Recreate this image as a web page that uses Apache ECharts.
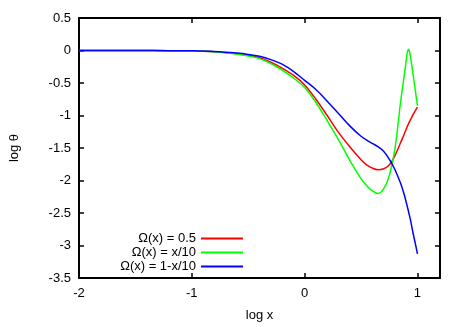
<!DOCTYPE html>
<html><head><meta charset="utf-8">
<script src="https://cdn.jsdelivr.net/npm/echarts@6/dist/echarts.min.js"></script>
<style>html,body{margin:0;padding:0;background:#fff}#c{width:467px;height:327px}</style>
</head><body><div id="c"></div>
<script>
var logX = [-2, -1.5, -1.2, -1, -0.8, -0.6, -0.5, -0.4, -0.3, -0.2, -0.1, 0, 0.1, 0.2, 0.3, 0.4, 0.5, 0.55, 0.6, 0.65, 0.7, 0.75, 0.8, 0.85, 0.88, 0.9, 0.91, 0.92, 0.93, 0.94, 0.96, 0.98, 1.0];
var omegaConst = [0, 0, -0.002, -0.005, -0.02, -0.05, -0.075, -0.11, -0.18, -0.27, -0.38, -0.53, -0.75, -1.0, -1.26, -1.48, -1.68, -1.76, -1.81, -1.835, -1.82, -1.76, -1.62, -1.42, -1.3, -1.21, -1.17, -1.13, -1.095, -1.06, -0.99, -0.93, -0.87];
var omegaLin = [0, 0, -0.002, -0.005, -0.02, -0.055, -0.085, -0.125, -0.2, -0.3, -0.42, -0.57, -0.8, -1.08, -1.37, -1.69, -1.97, -2.08, -2.16, -2.2, -2.13, -1.93, -1.52, -0.8, -0.42, -0.16, -0.03, 0.02, -0.02, -0.11, -0.35, -0.6, -0.85];
var omegaDec = [0, 0, -0.002, -0.005, -0.015, -0.04, -0.06, -0.09, -0.14, -0.21, -0.32, -0.46, -0.6, -0.78, -0.97, -1.16, -1.32, -1.38, -1.43, -1.48, -1.55, -1.67, -1.83, -2.04, -2.2, -2.33, -2.4, -2.47, -2.545, -2.62, -2.8, -2.96, -3.13];
var seriesNames = ['\u03A9(x) = 0.5', '\u03A9(x) = x/10', '\u03A9(x) = 1-x/10'];
var seriesColors = ['#ff0000', '#00ff00', '#0000ff'];
var xTicks = [-2, -1, 0, 1];
var yTicks = [0.5, 0, -0.5, -1, -1.5, -2, -2.5, -3, -3.5];

function pairs(ys){ return logX.map(function(x,i){ return [x, ys[i]]; }); }
var allY = [omegaConst, omegaLin, omegaDec];
var font = 'Liberation Sans, Arial, sans-serif';
var axisLineStyle = {show:true, onZero:false, lineStyle:{color:'#000', width:2}};
var tick = {show:true, inside:true, length:5, lineStyle:{color:'#000', width:1.5}};
var chart = echarts.init(document.getElementById('c'), null, {renderer:'canvas'});
chart.setOption({
  animation:false,
  backgroundColor:'#fff',
  grid:{left:73, right:27, top:18, bottom:48, containLabel:false},
  legend:{
    orient:'vertical', align:'right', right:219, top:227,
    itemWidth:42, itemHeight:2, itemGap:1, icon:'rect',
    data:seriesNames,
    textStyle:{fontFamily:font, fontSize:13, color:'#000', padding:[1,0,1,0]}
  },
  xAxis:[{
    type:'value', min:-2, max:1.2, interval:1,
    name:'log x', nameLocation:'middle', nameGap:31,
    nameTextStyle:{fontFamily:font, fontSize:13, color:'#000'},
    axisLine:axisLineStyle, axisTick:tick, splitLine:{show:false},
    axisLabel:{fontFamily:font, fontSize:13, color:'#000', margin:9, showMaxLabel:false,
      formatter:function(v){ return xTicks.indexOf(v) >= 0 ? String(v) : ''; }}
  },{
    type:'value', position:'top', min:-2, max:1.2, interval:1,
    axisLine:axisLineStyle, axisTick:tick, splitLine:{show:false}, axisLabel:{show:false}
  }],
  yAxis:[{
    type:'value', min:-3.5, max:0.5, interval:0.5,
    name:'log \u03B8', nameLocation:'middle', nameGap:58,
    nameTextStyle:{fontFamily:font, fontSize:13, color:'#000'},
    axisLine:axisLineStyle, axisTick:tick, splitLine:{show:false},
    axisLabel:{fontFamily:font, fontSize:13, color:'#000', margin:8,
      formatter:function(v){ return yTicks.indexOf(v) >= 0 ? String(v) : ''; }}
  },{
    type:'value', position:'right', min:-3.5, max:0.5, interval:0.5,
    axisLine:axisLineStyle, axisTick:tick, splitLine:{show:false}, axisLabel:{show:false}
  }],
  series: seriesNames.map(function(n,i){
    return {
      name:n, type:'line', xAxisIndex:0, yAxisIndex:0,
      data:pairs(allY[i]), symbol:'none', smooth:0.35,
      lineStyle:{color:seriesColors[i], width:1.5},
      itemStyle:{color:seriesColors[i]}
    };
  })
});
</script></body></html>
